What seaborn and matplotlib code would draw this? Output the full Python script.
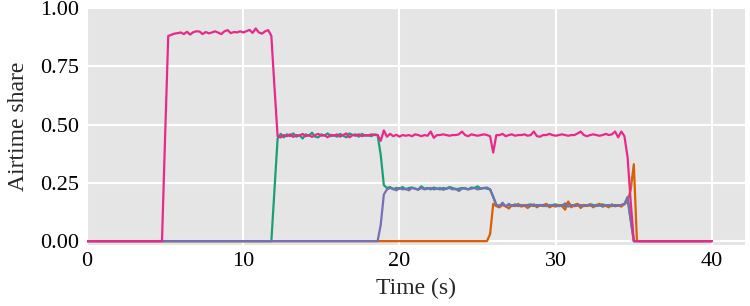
import matplotlib.pyplot as plt
import numpy as np
import pandas as pd
import seaborn as sns

# one sample every 0.2 s, 0 .. 40 s
time_s = np.round(np.arange(201) * 0.2, 1)

station_a = [  # pink
    0, 0, 0, 0, 0, 0, 0, 0, 0, 0,
    0, 0, 0, 0, 0, 0, 0, 0, 0, 0,
    0, 0, 0, 0, 0, 0.45, 0.88, 0.885, 0.89, 0.892,
    0.895, 0.888, 0.898, 0.886, 0.896, 0.9, 0.899, 0.888, 0.897, 0.891,
    0.895, 0.9, 0.894, 0.888, 0.9, 0.905, 0.892, 0.897, 0.895, 0.9,
    0.895, 0.9, 0.906, 0.893, 0.912, 0.895, 0.89, 0.9, 0.905, 0.88,
    0.66, 0.45, 0.445, 0.455, 0.45, 0.458, 0.447, 0.455, 0.452, 0.46,
    0.45, 0.455, 0.447, 0.455, 0.46, 0.452, 0.455, 0.445, 0.456, 0.452,
    0.458, 0.448, 0.455, 0.462, 0.445, 0.455, 0.452, 0.458, 0.45, 0.455,
    0.452, 0.458, 0.455, 0.455, 0.43, 0.475, 0.448, 0.46, 0.45, 0.456,
    0.448, 0.455, 0.452, 0.455, 0.45, 0.458, 0.455, 0.45, 0.455, 0.452,
    0.47, 0.443, 0.455, 0.455, 0.458, 0.455, 0.452, 0.455, 0.455, 0.458,
    0.47, 0.455, 0.45, 0.458, 0.455, 0.452, 0.455, 0.458, 0.455, 0.45,
    0.38, 0.455, 0.455, 0.46, 0.45, 0.455, 0.458, 0.452, 0.455, 0.455,
    0.458, 0.452, 0.455, 0.47, 0.45, 0.448, 0.455, 0.455, 0.46, 0.455,
    0.452, 0.455, 0.458, 0.455, 0.452, 0.455, 0.455, 0.462, 0.47, 0.455,
    0.45, 0.455, 0.458, 0.455, 0.452, 0.455, 0.46, 0.455, 0.458, 0.47,
    0.445, 0.47, 0.45, 0.36, 0.17, 0, 0, 0, 0, 0,
    0, 0, 0, 0, 0, 0, 0, 0, 0, 0,
    0, 0, 0, 0, 0, 0, 0, 0, 0, 0,
    0,
]

station_b = [  # green
    0, 0, 0, 0, 0, 0, 0, 0, 0, 0,
    0, 0, 0, 0, 0, 0, 0, 0, 0, 0,
    0, 0, 0, 0, 0, 0, 0, 0, 0, 0,
    0, 0, 0, 0, 0, 0, 0, 0, 0, 0,
    0, 0, 0, 0, 0, 0, 0, 0, 0, 0,
    0, 0, 0, 0, 0, 0, 0, 0, 0, 0,
    0.22, 0.44, 0.46, 0.445, 0.458, 0.45, 0.462, 0.448, 0.455, 0.44,
    0.458, 0.452, 0.465, 0.448, 0.445, 0.458, 0.452, 0.462, 0.45, 0.455,
    0.448, 0.46, 0.452, 0.445, 0.462, 0.455, 0.458, 0.448, 0.46, 0.452,
    0.455, 0.45, 0.458, 0.455, 0.37, 0.24, 0.228, 0.232, 0.222, 0.228,
    0.225, 0.232, 0.222, 0.228, 0.23, 0.225, 0.222, 0.235, 0.225, 0.228,
    0.222, 0.23, 0.225, 0.222, 0.228, 0.225, 0.232, 0.228, 0.222, 0.225,
    0.228, 0.225, 0.222, 0.23, 0.228, 0.235, 0.225, 0.228, 0.225, 0.222,
    0.19, 0.155, 0.152, 0.158, 0.15, 0.155, 0.152, 0.158, 0.15, 0.155,
    0.152, 0.155, 0.158, 0.15, 0.155, 0.152, 0.155, 0.158, 0.15, 0.155,
    0.158, 0.152, 0.155, 0.15, 0.165, 0.152, 0.155, 0.158, 0.152, 0.155,
    0.152, 0.158, 0.155, 0.15, 0.155, 0.158, 0.152, 0.155, 0.15, 0.155,
    0.152, 0.155, 0.158, 0.18, 0.09, 0, 0, 0, 0, 0,
    0, 0, 0, 0, 0, 0, 0, 0, 0, 0,
    0, 0, 0, 0, 0, 0, 0, 0, 0, 0,
    0,
]

station_c = [  # purple
    0, 0, 0, 0, 0, 0, 0, 0, 0, 0,
    0, 0, 0, 0, 0, 0, 0, 0, 0, 0,
    0, 0, 0, 0, 0, 0, 0, 0, 0, 0,
    0, 0, 0, 0, 0, 0, 0, 0, 0, 0,
    0, 0, 0, 0, 0, 0, 0, 0, 0, 0,
    0, 0, 0, 0, 0, 0, 0, 0, 0, 0,
    0, 0, 0, 0, 0, 0, 0, 0, 0, 0,
    0, 0, 0, 0, 0, 0, 0, 0, 0, 0,
    0, 0, 0, 0, 0, 0, 0, 0, 0, 0,
    0, 0, 0, 0, 0.07, 0.2, 0.222, 0.228, 0.225, 0.218,
    0.228, 0.222, 0.225, 0.218, 0.228, 0.225, 0.22, 0.228, 0.222, 0.225,
    0.228, 0.222, 0.225, 0.228, 0.22, 0.225, 0.228, 0.222, 0.225, 0.215,
    0.225, 0.228, 0.222, 0.225, 0.228, 0.222, 0.225, 0.228, 0.23, 0.222,
    0.19, 0.155, 0.15, 0.165, 0.148, 0.16, 0.15, 0.155, 0.152, 0.155,
    0.15, 0.155, 0.152, 0.155, 0.15, 0.155, 0.152, 0.15, 0.155, 0.152,
    0.155, 0.15, 0.152, 0.162, 0.148, 0.155, 0.15, 0.152, 0.155, 0.15,
    0.155, 0.152, 0.15, 0.155, 0.152, 0.15, 0.155, 0.152, 0.155, 0.15,
    0.152, 0.155, 0.16, 0.19, 0.09, 0, 0, 0, 0, 0,
    0, 0, 0, 0, 0, 0, 0, 0, 0, 0,
    0, 0, 0, 0, 0, 0, 0, 0, 0, 0,
    0,
]

station_d = [  # orange
    0, 0, 0, 0, 0, 0, 0, 0, 0, 0,
    0, 0, 0, 0, 0, 0, 0, 0, 0, 0,
    0, 0, 0, 0, 0, 0, 0, 0, 0, 0,
    0, 0, 0, 0, 0, 0, 0, 0, 0, 0,
    0, 0, 0, 0, 0, 0, 0, 0, 0, 0,
    0, 0, 0, 0, 0, 0, 0, 0, 0, 0,
    0, 0, 0, 0, 0, 0, 0, 0, 0, 0,
    0, 0, 0, 0, 0, 0, 0, 0, 0, 0,
    0, 0, 0, 0, 0, 0, 0, 0, 0, 0,
    0, 0, 0, 0, 0, 0, 0, 0, 0, 0,
    0, 0, 0, 0, 0, 0, 0, 0, 0, 0,
    0, 0, 0, 0, 0, 0, 0, 0, 0, 0,
    0, 0, 0, 0, 0, 0, 0, 0, 0, 0.03,
    0.16, 0.15, 0.145, 0.155, 0.15, 0.14, 0.155, 0.15, 0.16, 0.148,
    0.155, 0.142, 0.152, 0.158, 0.145, 0.155, 0.15, 0.16, 0.145, 0.152,
    0.148, 0.155, 0.15, 0.135, 0.17, 0.145, 0.155, 0.16, 0.142, 0.155,
    0.15, 0.158, 0.145, 0.155, 0.16, 0.148, 0.152, 0.145, 0.158, 0.15,
    0.155, 0.148, 0.16, 0.17, 0.22, 0.33, 0, 0, 0, 0,
    0, 0, 0, 0, 0, 0, 0, 0, 0, 0,
    0, 0, 0, 0, 0, 0, 0, 0, 0, 0,
    0,
]

stations = {"A": station_a, "B": station_b, "C": station_c, "D": station_d}
colors = {"A": "#e7298a", "B": "#1b9e77", "C": "#7570b3", "D": "#d95f02"}
draw_order = ["B", "D", "C", "A"]

df = pd.concat(
    [pd.DataFrame({"time": time_s, "share": vals, "station": name})
     for name, vals in stations.items()],
    ignore_index=True,
)

sns.set_theme(style="darkgrid")
plt.rcParams["font.family"] = ["Liberation Serif", "DejaVu Serif"]
plt.rcParams["axes.facecolor"] = "#e5e5e5"
plt.rcParams["grid.color"] = "white"
plt.rcParams["grid.linewidth"] = 1.5

fig = plt.figure(figsize=(7.5, 3.06), dpi=100)
ax = fig.add_axes([0.116, 0.199, 0.877, 0.778])

sns.lineplot(data=df, x="time", y="share", hue="station", hue_order=draw_order,
             palette=colors, estimator=None, linewidth=1.6, legend=False, ax=ax)

ax.set_xlim(0, 42.1)
ax.set_ylim(-0.017, 1.004)
ax.set_xticks([0, 10, 20, 30, 40])
ax.set_yticks([0, 0.25, 0.5, 0.75, 1.0])
ax.set_yticklabels(["0.00", "0.25", "0.50", "0.75", "1.00"])
ax.set_xlabel("Time (s)", fontsize=17, labelpad=5)
ax.set_ylabel("Airtime share", fontsize=17, labelpad=8)
ax.tick_params(axis="both", length=0, labelsize=16, colors="black")
ax.tick_params(axis="y", pad=6)
ax.tick_params(axis="x", pad=5)
for s in ax.spines.values():
    s.set_visible(False)

fig.savefig("out.png", dpi=100)
